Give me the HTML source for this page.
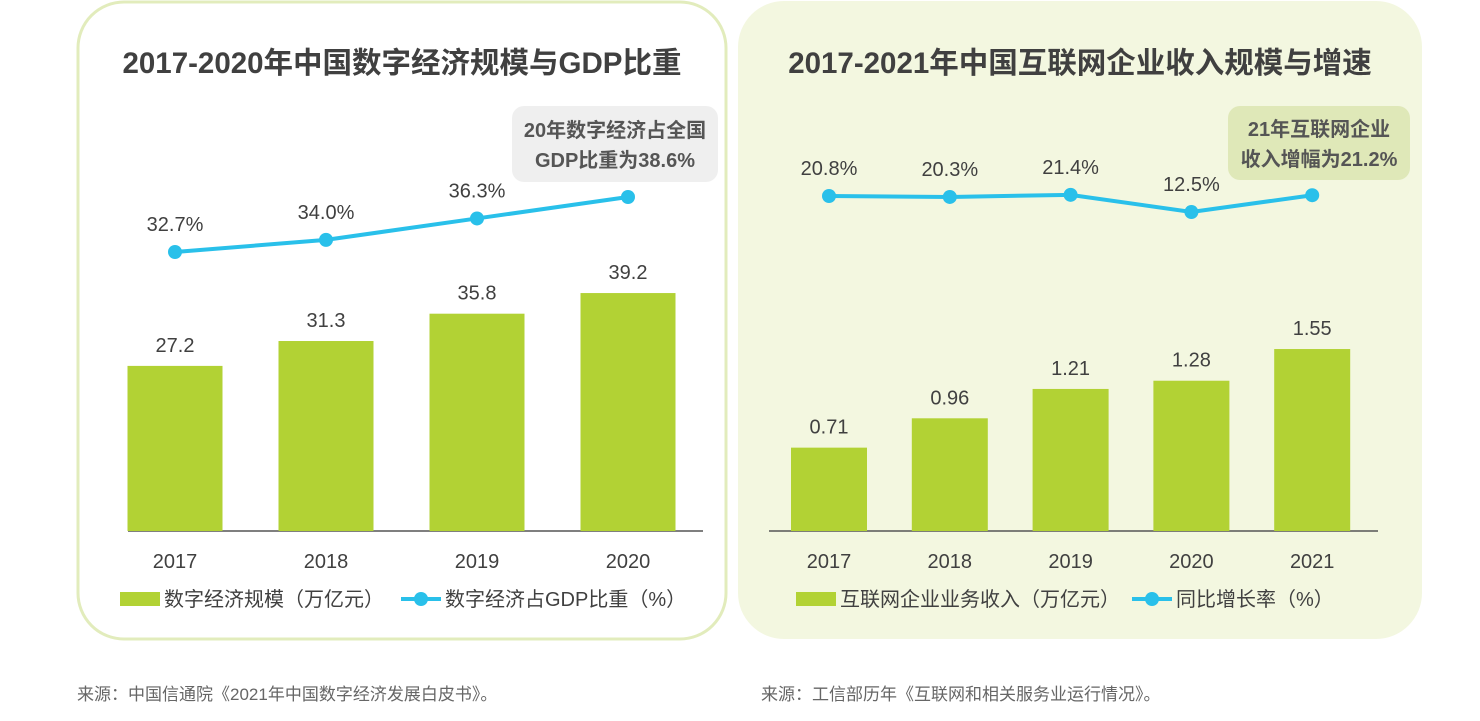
<!DOCTYPE html>
<html><head><meta charset="utf-8">
<style>
body{margin:0;width:1480px;height:716px;background:#fff;overflow:hidden;font-family:"Liberation Sans","Noto Sans CJK SC",sans-serif;}
svg text{font-family:"Liberation Sans","Noto Sans CJK SC",sans-serif;}
</style></head>
<body>
<svg id="chart" width="1480" height="716" xmlns="http://www.w3.org/2000/svg">
<rect x="78" y="2" width="648" height="637" rx="46" fill="#fff" stroke="#e2ecbc" stroke-width="3"/>
<rect x="738" y="1" width="684" height="638" rx="46" fill="#f3f7e0"/>
<text x="402" y="73" text-anchor="middle" font-size="29.5" font-weight="bold" fill="#404040">2017-2020年中国数字经济规模与GDP比重</text>
<text x="1080" y="73" text-anchor="middle" font-size="29.5" font-weight="bold" fill="#404040">2017-2021年中国互联网企业收入规模与增速</text>
<rect x="512" y="106" width="206" height="76" rx="12" fill="#efefef"/>
<text x="615" y="137" text-anchor="middle" font-size="20" font-weight="bold" fill="#555">20年数字经济占全国</text>
<text x="615" y="167" text-anchor="middle" font-size="20" font-weight="bold" fill="#555">GDP比重为38.6%</text>
<rect x="1228" y="106" width="182" height="74" rx="12" fill="#dfe8b8"/>
<text x="1319" y="136" text-anchor="middle" font-size="20" font-weight="bold" fill="#555">21年互联网企业</text>
<text x="1319" y="166" text-anchor="middle" font-size="20" font-weight="bold" fill="#555">收入增幅为21.2%</text>
<g id="left"></g><g id="right"></g>
<rect x="120" y="592" width="40" height="14" fill="#b2d234"/>
<text x="164" y="606" font-size="20" fill="#404040">数字经济规模（万亿元）</text>
<line x1="401" y1="599" x2="441" y2="599" stroke="#29c0ea" stroke-width="4"/>
<circle cx="421" cy="599" r="7" fill="#29c0ea"/>
<text x="445" y="606" font-size="20" fill="#404040">数字经济占GDP比重（%）</text>
<rect x="796" y="592" width="40" height="14" fill="#b2d234"/>
<text x="840" y="606" font-size="20" fill="#404040">互联网企业业务收入（万亿元）</text>
<line x1="1132" y1="599" x2="1172" y2="599" stroke="#29c0ea" stroke-width="4"/>
<circle cx="1152" cy="599" r="7" fill="#29c0ea"/>
<text x="1176" y="606" font-size="20" fill="#404040">同比增长率（%）</text>
<text x="77" y="700" font-size="17" fill="#666">来源：中国信通院《2021年中国数字经济发展白皮书》。</text>
<text x="761" y="700" font-size="17" fill="#666">来源：工信部历年《互联网和相关服务业运行情况》。</text>
</svg>
<script>
const leftCategories=["2017","2018","2019","2020"];
const leftBarValues=[27.2,31.3,35.8,39.2];
const leftLineValues=[32.7,34.0,36.3,38.6];
const leftBarLabels=["27.2","31.3","35.8","39.2"];
const leftLineLabels=["32.7%","34.0%","36.3%",""];
const rightCategories=["2017","2018","2019","2020","2021"];
const rightBarValues=[0.71,0.96,1.21,1.28,1.55];
const rightLineValues=[20.8,20.3,21.4,12.5,21.2];
const rightBarLabels=["0.71","0.96","1.21","1.28","1.55"];
const rightLineLabels=["20.8%","20.3%","21.4%","12.5%",""];
const NS="http://www.w3.org/2000/svg";
function mk(g,tag,attrs){const e=document.createElementNS(NS,tag);for(const k in attrs)e.setAttribute(k,attrs[k]);g.appendChild(e);return e;}
function draw(gid,cats,bars,line,barLbl,lineLbl,o){
  const g=document.getElementById(gid);
  const xc=i=>o.x0+i*o.step;
  const yb=v=>o.base-v*o.bs;
  const yl=v=>o.lref-(v-o.lv)*o.ls;
  const ax=mk(g,'line',{x1:o.ax1,x2:o.ax2,y1:o.base,y2:o.base,stroke:'#555','stroke-width':1.5});
  
  
  cats.forEach((c,i)=>{
    const r=mk(g,'rect',{x:xc(i)-o.bw/2,y:yb(bars[i]),width:o.bw,height:o.base-yb(bars[i]),fill:'#b2d234'});
    
    
    const t=mk(g,'text',{x:xc(i),y:yb(bars[i])-14,'text-anchor':'middle','font-size':20,fill:'#404040'});t.textContent=barLbl[i];
    
    
    const xt=mk(g,'text',{x:xc(i),y:568,'text-anchor':'middle','font-size':20,fill:'#404040'});xt.textContent=c;
    
    
  });
  const pl=mk(g,'polyline',{points:line.map((v,i)=>xc(i)+','+yl(v)).join(' '),fill:'none',stroke:'#29c0ea','stroke-width':4});
  
  
  cats.forEach((c,i)=>{
    const p=mk(g,'circle',{cx:xc(i),cy:yl(line[i]),r:7,fill:'#29c0ea'});
    
    
    if(lineLbl[i]){const t=mk(g,'text',{x:xc(i),y:yl(line[i])-21,'text-anchor':'middle','font-size':20,fill:'#404040'});t.textContent=lineLbl[i];
    
    }
  });
}
draw('left',leftCategories,leftBarValues,leftLineValues,leftBarLabels,leftLineLabels,{x0:175,step:151,bw:95,base:531,bs:6.07,lref:252,lv:32.7,ls:9.32,ax1:128,ax2:703});
draw('right',rightCategories,rightBarValues,rightLineValues,rightBarLabels,rightLineLabels,{x0:829,step:120.8,bw:76,base:531,bs:117.4,lref:196,lv:20.8,ls:1.93,ax1:769,ax2:1378});
</script>
</body></html>
